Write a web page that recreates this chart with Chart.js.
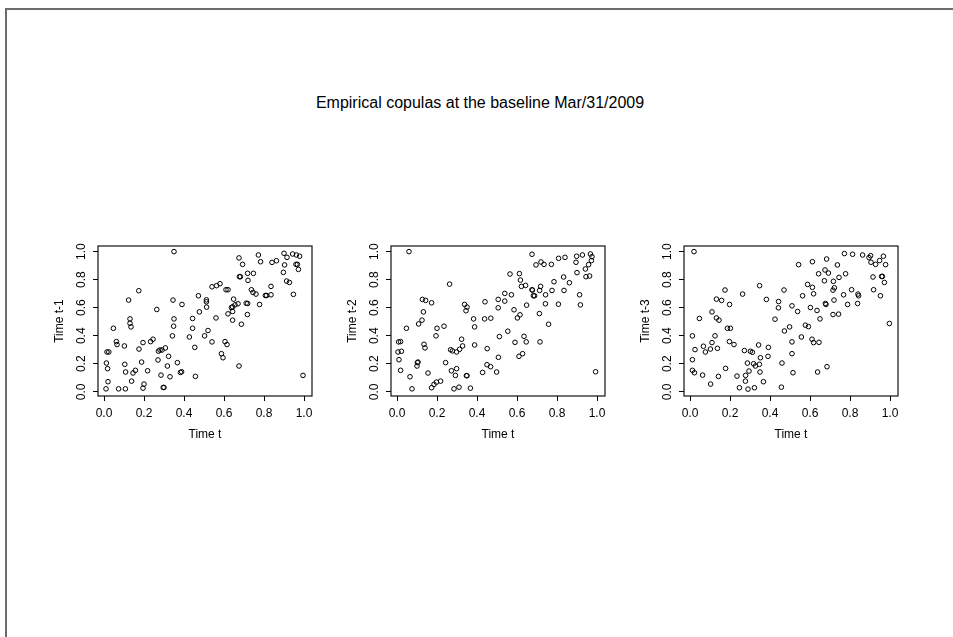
<!DOCTYPE html>
<html lang="en">
<head>
<meta charset="UTF-8">
<title>Empirical copulas</title>
<script src="https://cdn.jsdelivr.net/npm/chart.js"></script>
<style>
  html, body { margin: 0; overflow: hidden; background: #fff; font-family: "Liberation Sans", Arial, sans-serif; }
  #frame { position: absolute; left: 5px; top: 8px; width: 2000px; height: 2000px;
           border-left: 2px solid #6b6b6b; border-top: 2px solid #6b6b6b; }
  #title { position: absolute; left: 0; width: 960px; top: 94px; text-align: center; font-size: 16px; color: #000; }
  canvas { position: absolute; }
</style>
</head>
<body>
<div id="frame"></div>
<div id="title">Empirical copulas at the baseline Mar/31/2009</div>
<canvas id="c1" width="284" height="210" style="left:38px;top:236px"></canvas>
<canvas id="c2" width="284" height="210" style="left:331px;top:236px"></canvas>
<canvas id="c3" width="284" height="210" style="left:624px;top:236px"></canvas>

<script>
  // tick labels
  const xTicks = [0, 0.2, 0.4, 0.6, 0.8, 1.0];
  const yTicks = [0, 0.2, 0.4, 0.6, 0.8, 1.0];
  const xTitle = 'Time t';
  const yTitles = ['Time t-1', 'Time t-2', 'Time t-3'];

  const lag1 = [
    [0.35,1.0],[0.174,0.721],[0.123,0.654],[0.345,0.654],[0.39,0.623],[0.264,0.587],[0.472,0.685],[0.512,0.656],[0.512,0.642],[0.513,0.604],
    [0.13,0.52],[0.13,0.489],[0.135,0.463],[0.35,0.52],[0.348,0.468],[0.443,0.523],[0.477,0.57],[0.443,0.453],[0.047,0.453],[0.342,0.399],
    [0.427,0.391],[0.503,0.399],[0.52,0.437],[0.454,0.317],[0.062,0.358],[0.065,0.337],[0.102,0.327],[0.175,0.305],[0.195,0.351],[0.233,0.358],
    [0.245,0.375],[0.015,0.284],[0.024,0.284],[0.272,0.29],[0.28,0.298],[0.29,0.298],[0.307,0.313],[0.27,0.227],[0.323,0.253],[0.317,0.184],
    [0.367,0.208],[0.012,0.205],[0.018,0.165],[0.104,0.196],[0.108,0.141],[0.157,0.153],[0.145,0.134],[0.188,0.212],[0.218,0.15],[0.285,0.119],
    [0.33,0.107],[0.382,0.138],[0.388,0.143],[0.457,0.11],[0.02,0.072],[0.138,0.076],[0.2,0.055],[0.195,0.026],[0.01,0.021],[0.073,0.021],
    [0.107,0.021],[0.296,0.031],[0.3,0.031],
    [0.675,0.955],[0.772,0.976],[0.693,0.909],[0.677,0.821],[0.682,0.821],[0.718,0.845],[0.747,0.845],[0.72,0.795],[0.783,0.928],[0.84,0.923],
    [0.862,0.935],[0.9,0.988],[0.915,0.959],[0.903,0.905],[0.897,0.852],[0.943,0.983],[0.962,0.976],[0.978,0.967],[0.96,0.909],[0.967,0.909],
    [0.972,0.873],[0.913,0.79],[0.927,0.78],[0.835,0.752],[0.947,0.695],[0.807,0.687],[0.813,0.687],[0.835,0.692],[0.737,0.728],[0.745,0.709],
    [0.76,0.697],[0.778,0.623],[0.711,0.632],[0.718,0.63],[0.717,0.551],[0.687,0.482],[0.61,0.728],[0.62,0.728],[0.54,0.749],[0.563,0.757],
    [0.58,0.771],[0.648,0.661],[0.637,0.601],[0.643,0.606],[0.655,0.62],[0.67,0.628],[0.643,0.573],[0.62,0.556],[0.56,0.527],[0.643,0.511],
    [0.54,0.356],[0.605,0.358],[0.615,0.337],[0.587,0.272],[0.595,0.243],[0.675,0.184],[0.995,0.117]
  ];

  const lag2 = [
    [0.06,1.0],[0.263,0.768],[0.127,0.659],[0.143,0.652],[0.173,0.635],[0.132,0.57],[0.125,0.511],[0.108,0.484],[0.047,0.453],[0.2,0.453],
    [0.235,0.468],[0.195,0.399],[0.338,0.623],[0.35,0.604],[0.345,0.578],[0.383,0.52],[0.388,0.463],[0.323,0.375],[0.328,0.327],[0.313,0.303],
    [0.298,0.284],[0.268,0.3],[0.277,0.292],[0.388,0.334],[0.008,0.356],[0.018,0.358],[0.005,0.284],[0.022,0.289],[0.01,0.229],[0.018,0.153],
    [0.135,0.339],[0.14,0.313],[0.102,0.208],[0.105,0.212],[0.1,0.184],[0.155,0.134],[0.065,0.107],[0.075,0.021],[0.173,0.029],[0.185,0.053],
    [0.197,0.069],[0.218,0.076],[0.243,0.208],[0.272,0.15],[0.292,0.117],[0.298,0.165],[0.285,0.021],[0.31,0.033],[0.347,0.115],[0.35,0.115],
    [0.367,0.026],[0.428,0.138],[0.44,0.642],[0.438,0.52],[0.469,0.525],[0.451,0.308],[0.45,0.193],[0.468,0.179],[0.498,0.141],
    [0.506,0.659],[0.539,0.702],[0.539,0.647],[0.565,0.84],[0.572,0.692],[0.506,0.599],[0.585,0.585],[0.602,0.527],[0.615,0.549],[0.512,0.394],
    [0.554,0.432],[0.59,0.353],[0.635,0.396],[0.646,0.356],[0.628,0.272],[0.61,0.253],[0.507,0.246],[0.675,0.981],[0.695,0.905],[0.72,0.926],
    [0.735,0.909],[0.772,0.909],[0.808,0.952],[0.84,0.959],[0.898,0.967],[0.927,0.976],[0.967,0.983],[0.895,0.924],[0.975,0.964],[0.972,0.936],
    [0.958,0.907],[0.942,0.876],[0.9,0.85],[0.945,0.821],[0.963,0.826],[0.612,0.843],[0.617,0.797],[0.622,0.752],[0.643,0.759],[0.675,0.728],
    [0.677,0.725],[0.682,0.685],[0.688,0.685],[0.713,0.723],[0.718,0.752],[0.743,0.692],[0.785,0.785],[0.833,0.819],[0.862,0.778],[0.775,0.723],
    [0.835,0.723],[0.742,0.628],[0.712,0.558],[0.807,0.625],[0.913,0.692],[0.917,0.62],[0.758,0.482],[0.715,0.356],[0.648,0.618],[0.993,0.143]
  ];

  const lag3 = [
    [0.02,1.0],[0.175,0.726],[0.263,0.697],[0.348,0.757],[0.132,0.661],[0.158,0.652],[0.198,0.623],[0.11,0.57],[0.132,0.527],[0.145,0.511],
    [0.047,0.523],[0.187,0.453],[0.202,0.453],[0.125,0.399],[0.11,0.351],[0.012,0.399],[0.197,0.358],[0.22,0.337],[0.025,0.301],[0.067,0.325],
    [0.077,0.284],[0.102,0.305],[0.137,0.31],[0.272,0.294],[0.302,0.289],[0.312,0.282],[0.343,0.334],[0.392,0.317],[0.39,0.253],[0.352,0.243],
    [0.012,0.229],[0.287,0.205],[0.318,0.2],[0.327,0.184],[0.347,0.196],[0.295,0.148],[0.178,0.167],[0.012,0.153],[0.022,0.136],[0.063,0.119],
    [0.142,0.11],[0.235,0.112],[0.278,0.117],[0.277,0.076],[0.35,0.141],[0.367,0.072],[0.103,0.055],[0.247,0.029],[0.29,0.019],[0.322,0.029],
    [0.457,0.033],[0.46,0.205],[0.382,0.659],[0.443,0.644],[0.442,0.599],[0.47,0.726],[0.425,0.518],[0.472,0.434],[0.498,0.463],
    [0.51,0.613],[0.51,0.356],[0.51,0.272],[0.515,0.136],[0.538,0.573],[0.557,0.391],[0.563,0.685],[0.543,0.907],[0.577,0.475],[0.592,0.465],
    [0.588,0.766],[0.602,0.601],[0.612,0.745],[0.618,0.699],[0.612,0.928],[0.61,0.375],[0.618,0.351],[0.645,0.353],[0.638,0.141],[0.685,0.179],
    [0.635,0.58],[0.65,0.52],[0.643,0.842],[0.672,0.792],[0.675,0.869],[0.683,0.947],[0.692,0.847],[0.677,0.63],[0.68,0.623],[0.772,0.986],
    [0.813,0.981],[0.863,0.976],[0.903,0.971],[0.967,0.967],[0.895,0.957],[0.905,0.924],[0.928,0.909],[0.948,0.936],[0.978,0.907],[0.915,0.819],
    [0.958,0.823],[0.962,0.823],[0.972,0.78],[0.918,0.728],[0.952,0.685],[0.997,0.487],[0.737,0.905],[0.717,0.788],[0.778,0.842],[0.745,0.816],
    [0.722,0.742],[0.715,0.725],[0.808,0.728],[0.84,0.697],[0.843,0.685],[0.768,0.692],[0.788,0.623],[0.838,0.63],[0.72,0.654],[0.715,0.551],
    [0.743,0.554]
  ];

  const FONT = '"Liberation Sans", Arial, sans-serif';

  // box around the plot region + rotated y tick labels (R style)
  const rBox = {
    id: 'rBox',
    afterDraw(chart) {
      const { ctx, chartArea: a, scales } = chart;
      ctx.save();
      ctx.strokeStyle = '#111';
      ctx.lineWidth = 1.2;
      ctx.strokeRect(a.left, a.top, a.right - a.left, a.bottom - a.top);
      ctx.fillStyle = '#000';
      ctx.font = '12px ' + FONT;
      ctx.textAlign = 'center';
      ctx.textBaseline = 'middle';
      yTicks.forEach(v => {
        const py = scales.y.getPixelForValue(v);
        ctx.save();
        ctx.translate(a.left - 16, py);
        ctx.rotate(-Math.PI / 2);
        ctx.fillText(v.toFixed(1), 0, 0);
        ctx.restore();
      });
      ctx.restore();
    }
  };

  function makePanel(id, pts, yTitle) {
    new Chart(document.getElementById(id), {
      type: 'scatter',
      data: {
        datasets: [{
          data: pts.map(p => ({ x: p[0], y: p[1] })),
          pointRadius: 2.3,
          pointBorderWidth: 1,
          pointBorderColor: '#000',
          pointBackgroundColor: 'rgba(0,0,0,0)',
          showLine: false
        }]
      },
      options: {
        responsive: false,
        animation: false,
        events: [],
        devicePixelRatio: 1,
        layout: { padding: { top: 10, right: 10, left: 0, bottom: 0 } },
        plugins: { legend: { display: false }, tooltip: { enabled: false } },
        scales: {
          x: {
            type: 'linear',
            min: -0.03,
            max: 1.04,
            afterBuildTicks: s => { s.ticks = xTicks.map(v => ({ value: v })); },
            afterFit: s => { s.height = 50; },
            grid: { drawOnChartArea: false, drawTicks: true, tickLength: 5, color: '#000' },
            border: { display: false },
            ticks: { color: '#000', font: { family: FONT, size: 12 }, padding: 5, maxRotation: 0,
                     callback: v => Number(v).toFixed(1) },
            title: { display: true, text: xTitle, color: '#000', font: { family: FONT, size: 12 },
                     padding: { top: 0, bottom: 4 } }
          },
          y: {
            type: 'linear',
            min: -0.03,
            max: 1.04,
            afterBuildTicks: s => { s.ticks = yTicks.map(v => ({ value: v })); },
            afterFit: s => { s.width = 60; },
            grid: { drawOnChartArea: false, drawTicks: true, tickLength: 5, color: '#000' },
            border: { display: false },
            ticks: { display: false },
            title: { display: true, text: yTitle, color: '#000', font: { family: FONT, size: 12 },
                     padding: { top: 14, bottom: 0 } }
          }
        }
      },
      plugins: [rBox]
    });
  }

  makePanel('c1', lag1, yTitles[0]);
  makePanel('c2', lag2, yTitles[1]);
  makePanel('c3', lag3, yTitles[2]);
</script>
</body>
</html>
